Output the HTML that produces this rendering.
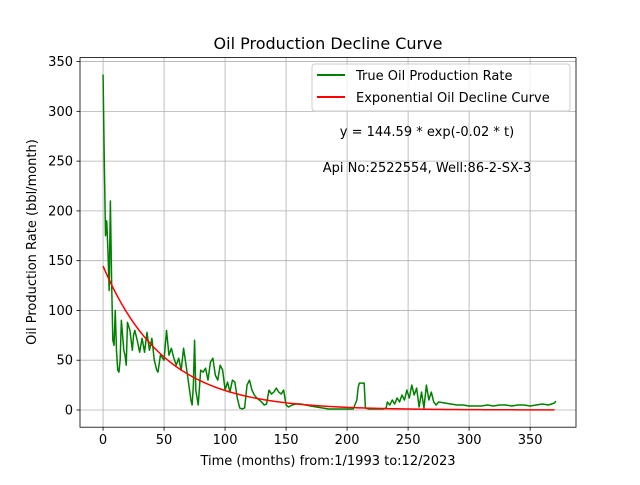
<!DOCTYPE html>
<html><head><meta charset="utf-8"><style>
body{margin:0;background:#fff;font-family:"Liberation Sans","DejaVu Sans",sans-serif}
</style></head><body>
<svg id="c" width="640" height="480" font-family="DejaVu Sans, Liberation Sans, sans-serif"></svg>
<script>
const months=[0,1,2,3,4,5,6,7,8,9,10,11,12,13,14,15,16,17,18,19,20,22,24,25,26,28,30,32,34,36,38,40,42,44,45,47,50,52,54,56,58,60,62,64,66,68,70,72,73,74,75,76,78,80,82,84,86,88,90,92,94,96,98,100,102,104,106,108,110,112,114,116,118,120,122,124,126,128,130,132,134,136,138,140,142,144,146,148,150,152,155,158,162,166,170,175,180,185,190,195,200,205,208,209,210,212,214,215,218,225,230,232,233,235,237,239,241,243,245,247,249,251,253,255,257,259,261,263,265,267,269,271,273,275,280,285,290,295,300,305,310,315,320,325,330,335,340,345,350,355,360,365,370,371];
const rates=[337,250,175,190,160,120,210,130,70,65,100,60,40,38,50,90,75,60,55,45,88,80,60,75,80,70,58,72,58,78,60,72,50,40,38,55,50,80,55,62,52,45,52,40,62,45,28,10,5,25,70,20,5,40,38,42,30,48,52,35,30,45,40,20,28,18,30,28,12,2,1,2,25,30,20,15,12,10,8,5,6,20,16,18,22,18,16,20,5,3,5,6,6,5,4,3,2,1,1,1,1,1,10,22,27,27,27,2,1,1,1,2,8,5,10,6,12,8,15,10,20,12,25,15,22,3,18,2,25,10,18,8,5,8,7,6,5,5,4,4,4,5,4,5,5,4,5,5,4,5,6,5,7,9];
const fitA=144.59, fitK=0.02;
const xTicks=[0,50,100,150,200,250,300,350];
const yTicks=[0,50,100,150,200,250,300,350];
const L=80,R=576,T=57.6,B=427.2;
const xmin=-18.9,xmax=387.6,ymin=-17.3,ymax=354;
const X=v=>L+(v-xmin)/(xmax-xmin)*(R-L);
const Y=v=>B-(v-ymin)/(ymax-ymin)*(B-T);
const s=document.getElementById('c');const NS='http://www.w3.org/2000/svg';
function mk(t,a,p){const e=document.createElementNS(NS,t);for(const k in a)e.setAttribute(k,a[k]);(p||s).appendChild(e);return e;}
xTicks.forEach(v=>{
 const g=mk('line',{x1:X(v),x2:X(v),y1:T,y2:B,stroke:'#b0b0b0','stroke-width':0.8});
 
 
 mk('line',{x1:X(v),x2:X(v),y1:B,y2:B+3.5,stroke:'#000','stroke-width':0.8});
 const t=mk('text',{x:X(v),y:B+17,'text-anchor':'middle','font-size':13});t.textContent=v;
 
 
});
yTicks.forEach(v=>{
 const g=mk('line',{x1:L,x2:R,y1:Y(v),y2:Y(v),stroke:'#b0b0b0','stroke-width':0.8});
 
 
 mk('line',{x1:L-3.5,x2:L,y1:Y(v),y2:Y(v),stroke:'#000','stroke-width':0.8});
 const t=mk('text',{x:L-7,y:Y(v)+4.5,'text-anchor':'end','font-size':13});t.textContent=v;
 
 
});
const green=mk('polyline',{points:months.map((m,i)=>X(m)+','+Y(rates[i])).join(' '),fill:'none',stroke:'#008000','stroke-width':1.5,'stroke-linejoin':'round'});


const fp=[];for(let t=0;t<=371;t+=2)fp.push(X(t)+','+Y(fitA*Math.exp(-fitK*t)));
const red=mk('polyline',{points:fp.join(' '),fill:'none',stroke:'#ff0000','stroke-width':1.5});


const fr=mk('rect',{x:L,y:T,width:R-L,height:B-T,fill:'none',stroke:'#000','stroke-width':0.8});


</script>
<svg width="640" height="480" style="position:absolute;left:0;top:0" font-family="DejaVu Sans, Liberation Sans, sans-serif">
<text x="328" y="49" text-anchor="middle" font-size="16">Oil Production Decline Curve</text>
<text x="328" y="465" text-anchor="middle" font-size="13">Time (months) from:1/1993 to:12/2023</text>
<text transform="translate(36,242) rotate(-90)" text-anchor="middle" font-size="13">Oil Production Rate (bbl/month)</text>
<g>
<rect x="312" y="64" width="258" height="47" rx="3" fill="#fff" fill-opacity="0.8" stroke="#ccc"/>
<line x1="317" x2="345" y1="75" y2="75" stroke="#008000" stroke-width="2"/>
<text x="356" y="80" font-size="13">True Oil Production Rate</text>
<line x1="317" x2="345" y1="97" y2="97" stroke="#ff0000" stroke-width="2"/>
<text x="356" y="102" font-size="13">Exponential Oil Decline Curve</text>
</g>
<text x="427" y="136" text-anchor="middle" font-size="13">y = 144.59 * exp(-0.02 * t)</text>
<text x="427" y="172" text-anchor="middle" font-size="13">Api No:2522554, Well:86-2-SX-3</text>
</svg>
</body></html>
